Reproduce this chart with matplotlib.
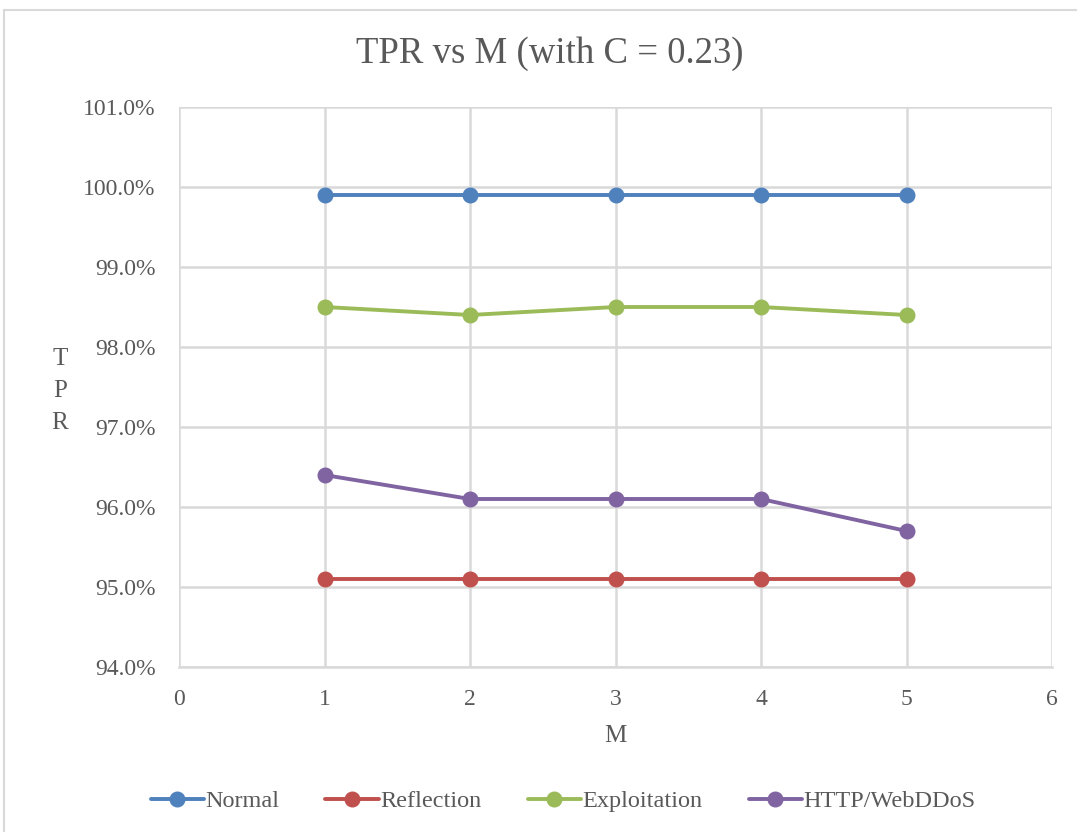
import matplotlib
matplotlib.use("Agg")
import matplotlib.pyplot as plt
from matplotlib.patches import Rectangle
from matplotlib.ticker import FuncFormatter

plt.rcParams['font.family'] = ['Liberation Serif', 'DejaVu Serif']

m_values = [1, 2, 3, 4, 5]
normal = [99.9, 99.9, 99.9, 99.9, 99.9]
reflection = [95.1, 95.1, 95.1, 95.1, 95.1]
exploitation = [98.5, 98.4, 98.5, 98.5, 98.4]
http_webddos = [96.4, 96.1, 96.1, 96.1, 95.7]

series_names = ["Normal", "Reflection", "Exploitation", "HTTP/WebDDoS"]
series_values = [normal, reflection, exploitation, http_webddos]
series_colors = ["#4f81bd", "#c0504d", "#9bbb59", "#8064a2"]

text_gray = "#595959"
grid_gray = "#d9d9d9"

fig = plt.figure(figsize=(10.77, 8.32), dpi=100)

# chart frame
fig.patches.append(Rectangle((4 / 1077, -0.05), 1.1, (832 - 10) / 832 + 0.05,
                             transform=fig.transFigure, fill=False,
                             edgecolor=grid_gray, linewidth=1.5))

ax = fig.add_axes([179 / 1077, (832 - 667) / 832, 873 / 1077, 560 / 832])

for name, vals, col in zip(series_names, series_values, series_colors):
    ax.plot(m_values, vals, color=col, linewidth=2.8, marker='o',
            markersize=10.5, label=name, solid_capstyle='round', zorder=3)

ax.set_xlim(0, 6)
ax.set_ylim(94, 101)
ax.set_xticks(range(0, 7))
ax.set_yticks(range(94, 102))
ax.yaxis.set_major_formatter(FuncFormatter(lambda v, p: f"{v:.1f}%"))
ax.grid(True, color=grid_gray, linewidth=1.8, zorder=0)
ax.set_axisbelow(True)
for s in ['top', 'right', 'left']:
    ax.spines[s].set_visible(False)
ax.spines['bottom'].set_color(grid_gray)
ax.spines['bottom'].set_linewidth(1.8)
ax.tick_params(length=0, labelsize=17, labelcolor=text_gray)
ax.tick_params(axis='y', pad=17)
ax.tick_params(axis='x', pad=16)

fig.text(550 / 1077, (832 - 54) / 832, "TPR vs M (with C = 0.23)", ha='center',
         va='center', fontsize=26.5, color=text_gray)
fig.text(615 / 1077, (832 - 736) / 832, "M", ha='center', va='center',
         fontsize=18, color=text_gray)
fig.text(60 / 1077, (832 - 391) / 832, "T\nP\nR", ha='center', va='center',
         fontsize=18, color=text_gray, linespacing=1.6)

fig.legend(loc='center', bbox_to_anchor=(563 / 1077, (832 - 801) / 832), ncol=4,
           frameon=False, fontsize=17.5, labelcolor=text_gray, handlelength=2.2,
           handletextpad=0.05, columnspacing=1.9)

fig.savefig("out.png", dpi=100)
